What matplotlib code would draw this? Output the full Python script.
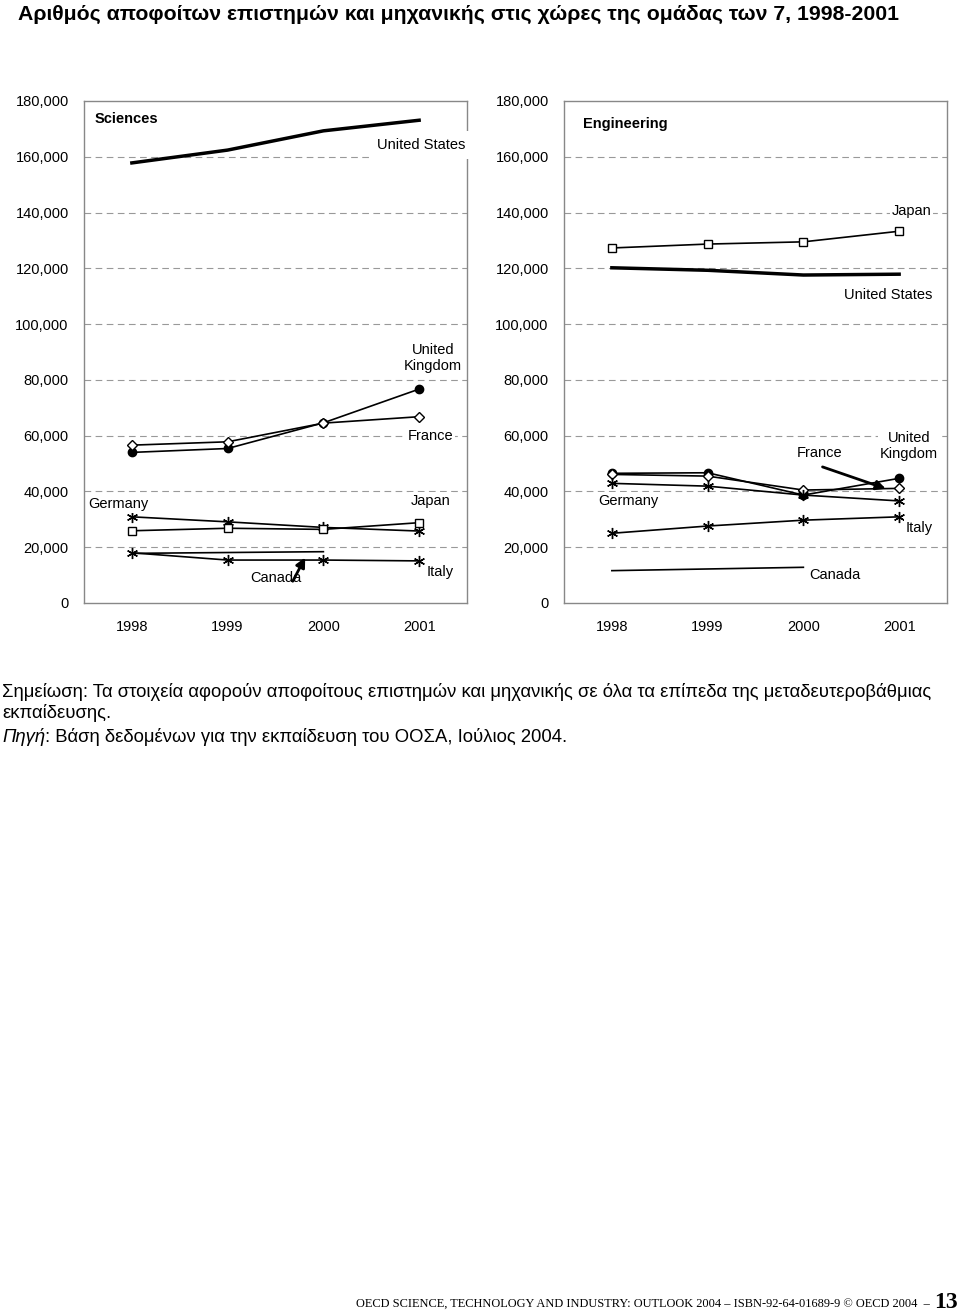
import matplotlib
matplotlib.use('Agg')
import matplotlib.pyplot as plt
from matplotlib.ticker import FuncFormatter

plt.rcParams['font.family'] = ['Liberation Sans', 'DejaVu Sans']

years = [1998, 1999, 2000, 2001]
yticks = [0, 20000, 40000, 60000, 80000, 100000, 120000, 140000, 160000, 180000]

# Sciences graduates
sci_us = [157800, 162400, 169300, 173100]
sci_uk = [54000, 55400, 64600, 76700]
sci_fr = [56600, 57800, 64500, 66800]
sci_de = [30900, 29100, 27100, 25800]
sci_jp = [25900, 26800, 26400, 28800]
sci_it = [18000, 15400, 15400, 15100]
sci_ca = [17800, 18100, 18400]

# Engineering graduates
eng_jp = [127300, 128700, 129500, 133300]
eng_us = [120200, 119300, 117600, 117900]
eng_uk = [46500, 46700, 38700, 44700]
eng_fr = [46100, 45500, 40500, 41100]
eng_de = [42900, 41900, 38700, 36600]
eng_it = [25000, 27600, 29700, 30900]
eng_ca = [11600, 12200, 12800]

ASTER = (6, 2, 0)
FS = 10.5


def setup(ax):
    ax.set_xlim(1997.5, 2001.5)
    ax.set_ylim(0, 180000)
    ax.set_xticks(years)
    ax.set_yticks(yticks)
    ax.yaxis.set_major_formatter(FuncFormatter(lambda v, p: f'{int(v):,}'))
    ax.tick_params(length=0, labelsize=FS, pad=11)
    ax.tick_params(axis='x', pad=12)
    for s in ax.spines.values():
        s.set_color('#888888')
        s.set_linewidth(1.0)
    for v in yticks[1:-1]:
        ax.axhline(v, color='#999999', lw=0.8, ls=(0, (6, 4)), zorder=0)


def lab(ax, x, y, s, pad=1.5):
    ax.text(x, y, s, fontsize=FS, ha='center', va='center', zorder=5,
            bbox=dict(facecolor='white', edgecolor='none', pad=pad))


fig = plt.figure(figsize=(9.6, 13.12), dpi=100)
ax1 = fig.add_axes([84 / 960, 1 - 603 / 1312, 383 / 960, 502 / 1312])
ax2 = fig.add_axes([564 / 960, 1 - 603 / 1312, 383 / 960, 502 / 1312])

# left: Sciences
setup(ax1)
ax1.plot(years, sci_us, color='black', lw=2.5, zorder=3)
ax1.plot(years, sci_uk, color='black', lw=1.2, marker='o', ms=6, zorder=3)
ax1.plot(years, sci_fr, color='black', lw=1.2, marker='D', ms=5, mfc='white', zorder=3)
ax1.plot(years, sci_de, color='black', lw=1.2, marker=ASTER, ms=8, zorder=3)
ax1.plot(years, sci_jp, color='black', lw=1.2, marker='s', ms=6, mfc='white', zorder=3)
ax1.plot(years, sci_it, color='black', lw=1.2, marker=ASTER, ms=8, zorder=3)
ax1.plot(years[:3], sci_ca, color='black', lw=1.2, zorder=3)

ax1.text(1997.615, 173600, 'Sciences', fontsize=FS, fontweight='bold', ha='left', va='center')
lab(ax1, 2001.02, 164200, 'United States', pad=5)
lab(ax1, 2001.145, 87900, 'United\nKingdom')
lab(ax1, 2001.12, 59900, 'France')
lab(ax1, 1997.855, 35500, 'Germany')
lab(ax1, 2001.12, 36600, 'Japan')
lab(ax1, 1999.505, 9000, 'Canada')
lab(ax1, 2001.22, 11100, 'Italy')
ax1.annotate('', xy=(1999.81, 16300), xytext=(1999.68, 7800),
             arrowprops=dict(arrowstyle='-|>', lw=2.0, mutation_scale=14, color='black',
                             shrinkA=0, shrinkB=0), zorder=6)

# right: Engineering
setup(ax2)
ax2.plot(years, eng_jp, color='black', lw=1.2, marker='s', ms=6, mfc='white', zorder=3)
ax2.plot(years, eng_us, color='black', lw=2.5, zorder=3)
ax2.plot(years, eng_uk, color='black', lw=1.2, marker='o', ms=6, zorder=3)
ax2.plot(years, eng_fr, color='black', lw=1.2, marker='D', ms=5, mfc='white', zorder=3)
ax2.plot(years, eng_de, color='black', lw=1.2, marker=ASTER, ms=8, zorder=3)
ax2.plot(years, eng_it, color='black', lw=1.2, marker=ASTER, ms=8, zorder=3)
ax2.plot(years[:3], eng_ca, color='black', lw=1.2, zorder=3)

ax2.text(1997.70, 171800, 'Engineering', fontsize=FS, fontweight='bold', ha='left', va='center')
lab(ax2, 2001.13, 140600, 'Japan')
lab(ax2, 2000.89, 110400, 'United States')
lab(ax2, 2001.10, 56300, 'United\nKingdom')
lab(ax2, 2000.17, 53800, 'France')
lab(ax2, 1998.17, 36600, 'Germany')
lab(ax2, 2001.21, 26900, 'Italy')
lab(ax2, 2000.33, 10000, 'Canada')
ax2.annotate('', xy=(2000.86, 41000), xytext=(2000.20, 48800),
             arrowprops=dict(arrowstyle='-|>', lw=2.0, mutation_scale=14, color='black',
                             shrinkA=0, shrinkB=0), zorder=6)

# title
fig.text(18 / 960, 1 - 14 / 1312, 'Αριθμός αποφοίτων επιστημών και μηχανικής στις χώρες της ομάδας των 7, 1998-2001',
         family=['Liberation Sans Narrow', 'Liberation Sans'], fontweight='bold', fontsize=15.3,
         ha='left', va='center')

# notes
NFS = 13.3
fig.text(2 / 960, 1 - 692 / 1312,
         'Σημείωση: Τα στοιχεία αφορούν αποφοίτους επιστημών και μηχανικής σε όλα τα επίπεδα της μεταδευτεροβάθμιας',
         fontsize=NFS, ha='left', va='center')
fig.text(2 / 960, 1 - 713 / 1312, 'εκπαίδευσης.', fontsize=NFS, ha='left', va='center')
t = fig.text(2 / 960, 1 - 737 / 1312, 'Πηγή', fontsize=NFS, style='italic', ha='left', va='center')
fig.canvas.draw()
bb = t.get_window_extent()
fig.text(bb.x1 / 960, 1 - 737 / 1312, ': Βάση δεδομένων για την εκπαίδευση του ΟΟΣΑ, Ιούλιος 2004.',
         fontsize=NFS, ha='left', va='center')

# footer
fig.text(930 / 960, 1 - 1304 / 1312,
         'OECD SCIENCE, TECHNOLOGY AND INDUSTRY: OUTLOOK 2004 – ISBN-92-64-01689-9 © OECD 2004  –',
         family='Liberation Serif', fontsize=8.9, ha='right', va='center')
fig.text(958 / 960, 1 - 1302 / 1312, '13', family='Liberation Serif', fontweight='bold',
         fontsize=17, ha='right', va='center')

fig.savefig('out.png', dpi=100)
